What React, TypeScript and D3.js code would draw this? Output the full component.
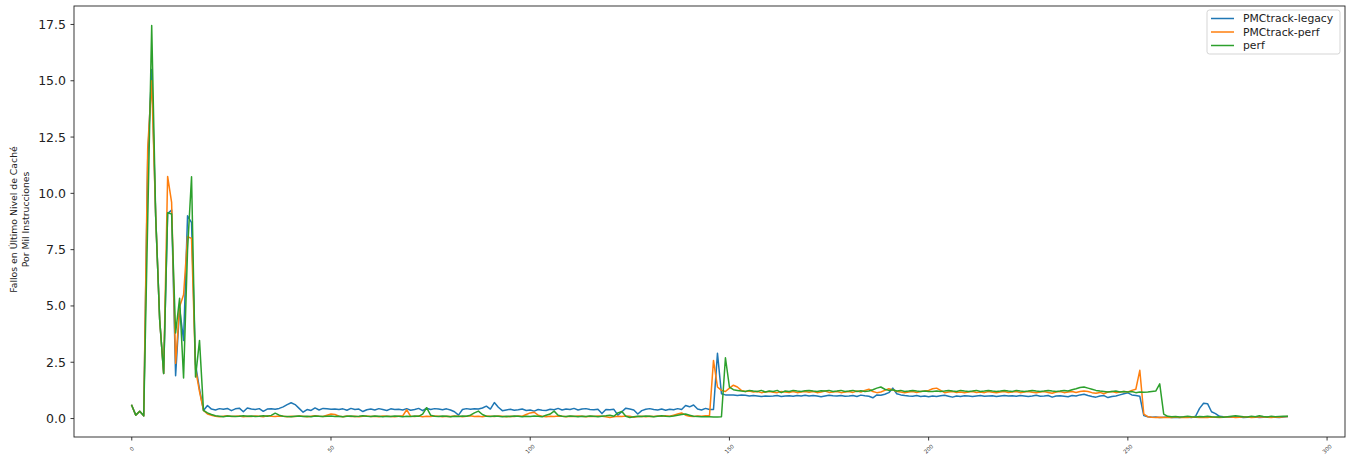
import React from "react";
import * as d3 from "d3";

// Misses in the last-level cache per thousand instructions, one sample per step
const legacy: number[] = [
  0.58, 0.15, 0.32, 0.12, 11.5, 15.5, 9.0, 4.4, 2.0, 9.1,
  9.26, 1.9, 4.9, 3.47, 9.0, 8.7, 2.4, 1.3, 0.36, 0.58,
  0.42, 0.38, 0.44, 0.41, 0.45, 0.35, 0.43, 0.46, 0.3, 0.47,
  0.42, 0.4, 0.44, 0.32, 0.42, 0.43, 0.41, 0.45, 0.52, 0.62,
  0.7, 0.62, 0.45, 0.28, 0.4, 0.36, 0.47, 0.38, 0.45, 0.43,
  0.41, 0.42, 0.4, 0.43, 0.37, 0.45, 0.4, 0.42, 0.31, 0.39,
  0.42, 0.38, 0.44, 0.4, 0.36, 0.43, 0.4, 0.41, 0.38, 0.44,
  0.37, 0.4, 0.45, 0.35, 0.46, 0.4, 0.44, 0.42, 0.39, 0.43,
  0.38, 0.3, 0.15, 0.4, 0.44, 0.41, 0.43, 0.42, 0.47, 0.55,
  0.42, 0.71, 0.5, 0.35, 0.38, 0.41, 0.37, 0.39, 0.42, 0.36,
  0.38, 0.33, 0.4, 0.37, 0.36, 0.41, 0.39, 0.45, 0.38, 0.42,
  0.4, 0.45, 0.38, 0.42, 0.44, 0.4, 0.39, 0.41, 0.22, 0.4,
  0.39, 0.41, 0.15, 0.3, 0.46, 0.42, 0.38, 0.2, 0.35, 0.41,
  0.44, 0.4, 0.38, 0.42, 0.37, 0.41, 0.39, 0.44, 0.4, 0.58,
  0.52, 0.6, 0.42, 0.38, 0.45, 0.4, 0.4, 2.9, 1.1, 1.05,
  1.05, 1.05, 1.02, 1.04, 1.03, 1.0, 1.02, 1.0, 0.98, 1.0,
  0.99, 1.0, 1.02, 0.98, 1.0, 1.01, 0.99, 1.02, 1.0, 1.03,
  1.0, 1.02, 1.0, 0.97, 1.0, 1.03, 1.01, 1.0, 1.02, 0.99,
  1.0, 1.02, 0.98, 1.04, 1.01, 0.99, 0.92, 1.05, 1.03, 1.08,
  1.15, 1.35, 1.1, 1.05, 1.02, 1.0, 0.99, 1.02, 0.98, 1.0,
  0.97, 1.0, 0.98, 1.01, 1.03, 0.99, 0.95, 1.0, 0.98, 1.01,
  1.0, 0.98, 1.0, 1.02, 0.99, 1.0, 1.01, 0.98, 1.0, 1.02,
  1.0, 1.01, 0.99, 1.02, 1.0, 0.98, 1.0, 1.03, 0.99, 1.0,
  1.02, 0.95, 1.0, 1.01, 0.99, 0.97, 1.02, 1.0, 1.05, 1.08,
  1.02, 0.98, 0.95, 1.0, 1.02, 0.93, 0.98, 1.0, 1.05, 1.1,
  1.14, 1.05, 1.02, 0.99, 0.13, 0.08, 0.06, 0.07, 0.05, 0.06,
  0.07, 0.05, 0.06, 0.05, 0.07, 0.06, 0.05, 0.1, 0.45, 0.68,
  0.66, 0.3, 0.22, 0.1, 0.08, 0.07, 0.06, 0.08, 0.07, 0.05,
  0.06, 0.08, 0.07, 0.05, 0.06, 0.08, 0.07, 0.06, 0.05, 0.07,
  0.09,
];

const pmcPerf: number[] = [
  0.58, 0.15, 0.32, 0.12, 12.0, 15.0, 9.0, 4.4, 2.0, 10.75,
  9.6, 2.45, 4.96, 5.5, 8.07, 8.0, 2.2, 1.2, 0.36, 0.2,
  0.15, 0.1, 0.08, 0.1, 0.12, 0.09, 0.1, 0.11, 0.08, 0.1,
  0.09, 0.11, 0.1, 0.08, 0.12, 0.1, 0.09, 0.11, 0.1, 0.08,
  0.1, 0.09, 0.11, 0.1, 0.08, 0.1, 0.12, 0.1, 0.09, 0.15,
  0.2, 0.18, 0.1, 0.08, 0.11, 0.09, 0.1, 0.08, 0.1, 0.11,
  0.09, 0.1, 0.08, 0.11, 0.1, 0.09, 0.08, 0.1, 0.12, 0.39,
  0.1, 0.09, 0.11, 0.08, 0.1, 0.09, 0.11, 0.1, 0.08, 0.1,
  0.09, 0.11, 0.1, 0.08, 0.1, 0.12, 0.09, 0.1, 0.08, 0.11,
  0.1, 0.09, 0.11, 0.1, 0.08, 0.1, 0.09, 0.11, 0.1, 0.18,
  0.25, 0.28, 0.15, 0.1, 0.08, 0.1, 0.09, 0.11, 0.1, 0.08,
  0.1, 0.09, 0.11, 0.1, 0.08, 0.1, 0.09, 0.11, 0.1, 0.08,
  0.05, 0.08, 0.1, 0.09, 0.11, 0.1, 0.06, 0.09, 0.1, 0.08,
  0.1, 0.09, 0.11, 0.1, 0.12, 0.1, 0.15, 0.2, 0.25, 0.15,
  0.1, 0.09, 0.11, 0.1, 0.12, 0.13, 2.58, 1.4, 1.25, 1.2,
  1.35, 1.48, 1.4, 1.25, 1.2, 1.22, 1.18, 1.2, 1.15, 1.18,
  1.2, 1.17, 1.15, 1.2, 1.18, 1.16, 1.2, 1.15, 1.18, 1.2,
  1.17, 1.2, 1.15, 1.18, 1.22, 1.16, 1.18, 1.2, 1.15, 1.18,
  1.2, 1.16, 1.22, 1.18, 1.25, 1.3, 1.2, 1.15, 1.18, 1.25,
  1.32, 1.28, 1.2, 1.18, 1.15, 1.18, 1.2, 1.16, 1.2, 1.22,
  1.25, 1.32, 1.35, 1.25, 1.15, 1.18, 1.2, 1.16, 1.18, 1.15,
  1.18, 1.2, 1.16, 1.18, 1.15, 1.2, 1.17, 1.15, 1.18, 1.2,
  1.16, 1.18, 1.2, 1.15, 1.18, 1.2, 1.17, 1.15, 1.18, 1.2,
  1.16, 1.12, 1.18, 1.2, 1.15, 1.18, 1.2, 1.16, 1.2, 1.22,
  1.2, 1.15, 1.12, 1.16, 1.1, 1.18, 1.2, 1.15, 1.18, 1.2,
  1.18, 1.25, 1.3, 2.14, 0.2, 0.08, 0.06, 0.05, 0.06, 0.05,
  0.06, 0.05, 0.07, 0.05, 0.06, 0.05, 0.07, 0.06, 0.05, 0.06,
  0.05, 0.07, 0.06, 0.05, 0.06, 0.08, 0.07, 0.05, 0.06, 0.08,
  0.07, 0.05, 0.06, 0.08, 0.07, 0.06, 0.05, 0.07, 0.06, 0.08,
  0.09,
];

const perf: number[] = [
  0.58, 0.15, 0.32, 0.12, 8.8, 17.45, 9.0, 4.4, 2.0, 9.14,
  9.08, 3.8, 5.34, 1.8, 7.5, 10.74, 1.84, 3.47, 0.36, 0.25,
  0.18, 0.12, 0.1, 0.08, 0.11, 0.1, 0.09, 0.1, 0.12, 0.1,
  0.11, 0.09, 0.1, 0.12, 0.1, 0.14, 0.24, 0.15, 0.1, 0.09,
  0.08, 0.1, 0.11, 0.09, 0.1, 0.08, 0.11, 0.1, 0.09, 0.1,
  0.11, 0.09, 0.1, 0.08, 0.1, 0.11, 0.09, 0.1, 0.12, 0.1,
  0.09, 0.11, 0.1, 0.08, 0.1, 0.09, 0.11, 0.1, 0.08, 0.1,
  0.09, 0.11, 0.1, 0.2, 0.48, 0.15, 0.1, 0.09, 0.11, 0.1,
  0.08, 0.1, 0.09, 0.11, 0.1, 0.15, 0.25, 0.33, 0.18, 0.1,
  0.09, 0.11, 0.1, 0.08, 0.1, 0.09, 0.11, 0.1, 0.08, 0.1,
  0.09, 0.11, 0.1, 0.08, 0.15, 0.2, 0.33, 0.15, 0.1, 0.09,
  0.11, 0.1, 0.08, 0.1, 0.09, 0.11, 0.1, 0.08, 0.1, 0.12,
  0.15, 0.1, 0.25, 0.31, 0.1, 0.05, 0.08, 0.1, 0.09, 0.11,
  0.1, 0.08, 0.1, 0.12, 0.1, 0.09, 0.11, 0.15, 0.18, 0.2,
  0.15, 0.1, 0.09, 0.08, 0.08, 0.08, 0.07, 0.07, 0.08, 2.7,
  1.4, 1.28, 1.25, 1.22, 1.2, 1.25, 1.22, 1.2, 1.25, 1.18,
  1.22, 1.2, 1.25, 1.15, 1.22, 1.2, 1.25, 1.22, 1.2, 1.23,
  1.25, 1.22, 1.2, 1.23, 1.22, 1.25, 1.2, 1.22, 1.25, 1.2,
  1.22, 1.25, 1.2, 1.23, 1.2, 1.22, 1.28, 1.35, 1.4, 1.3,
  1.25, 1.28, 1.22, 1.25, 1.2, 1.22, 1.25, 1.22, 1.2, 1.22,
  1.2, 1.2, 1.22, 1.2, 1.22, 1.25, 1.22, 1.2, 1.25, 1.22,
  1.2, 1.22, 1.25, 1.2, 1.22, 1.25, 1.22, 1.2, 1.22, 1.25,
  1.22, 1.2, 1.25, 1.22, 1.2, 1.22, 1.25, 1.22, 1.2, 1.22,
  1.25, 1.22, 1.2, 1.22, 1.25, 1.22, 1.28, 1.32, 1.38, 1.4,
  1.35, 1.3, 1.25, 1.22, 1.2, 1.18, 1.2, 1.22, 1.18, 1.2,
  1.18, 1.2, 1.15, 1.18, 1.17, 1.18, 1.2, 1.22, 1.54, 0.2,
  0.1, 0.08, 0.09, 0.07, 0.08, 0.1, 0.08, 0.07, 0.09, 0.08,
  0.1, 0.08, 0.07, 0.08, 0.06, 0.08, 0.1, 0.12, 0.1, 0.08,
  0.07, 0.1, 0.08, 0.12, 0.09, 0.07, 0.1, 0.08, 0.09, 0.1,
  0.1,
];

const seriesNames = ["PMCtrack-legacy", "PMCtrack-perf", "perf"];
const seriesColors = ["#1f77b4", "#ff7f0e", "#2ca02c"];
const xTickValues = [0, 50, 100, 150, 200, 250, 300];
const yTickValues = [0, 2.5, 5, 7.5, 10, 12.5, 15, 17.5];
const yLabelLines = ["Fallos en Último Nivel de Caché", "Por Mil Instrucciones"];

const W = 1352;
const H = 457;
const plot = { left: 74, right: 1345, top: 6, bottom: 437 };
const FONT = "'DejaVu Sans', sans-serif";

export default function App() {
  const all = [legacy, pmcPerf, perf];
  const n = legacy.length;
  const xPad = (n - 1) * 0.05;
  const x = d3.scaleLinear().domain([-xPad, n - 1 + xPad]).range([plot.left, plot.right]);
  const yMin = d3.min(all.flat()) as number;
  const yMax = d3.max(all.flat()) as number;
  const yPad = (yMax - yMin) * 0.05;
  const y = d3.scaleLinear().domain([yMin - yPad, yMax + yPad]).range([plot.bottom, plot.top]);

  const line = d3
    .line<number>()
    .x((_, i) => x(i))
    .y((d) => y(d));

  const yMid = (plot.top + plot.bottom) / 2 - 2;
  const legendX = 1207;
  const legendY = 10;

  return (
    <svg
      width={W}
      height={H}
      style={{ position: "absolute", left: 0, top: 0, background: "#fff" }}
      fontFamily={FONT}
    >
      <rect x={0} y={0} width={W} height={H} fill="#fff" />

      {/* series lines */}
      <g clipPath="url(#plotClip)">
        {all.map((s, k) => (
          <path
            key={seriesNames[k]}
            d={line(s) || ""}
            fill="none"
            stroke={seriesColors[k]}
            strokeWidth={1.5}
            strokeLinejoin="round"
            strokeLinecap="square"
          />
        ))}
      </g>
      <defs>
        <clipPath id="plotClip">
          <rect x={plot.left} y={plot.top} width={plot.right - plot.left} height={plot.bottom - plot.top} />
        </clipPath>
      </defs>

      {/* frame */}
      <rect
        x={plot.left}
        y={plot.top}
        width={plot.right - plot.left}
        height={plot.bottom - plot.top}
        fill="none"
        stroke="#222"
        strokeWidth={0.9}
      />

      {/* y axis */}
      {yTickValues.map((v) => (
        <g key={v} transform={`translate(0,${y(v)})`}>
          <line x1={plot.left - 3.5} x2={plot.left} stroke="#222" strokeWidth={0.9} />
          <text x={plot.left - 8} dy="0.36em" textAnchor="end" fontSize={12.5} fill="#222">
            {v.toFixed(1)}
          </text>
        </g>
      ))}

      {/* x axis */}
      {xTickValues.map((v) => (
        <g key={v} transform={`translate(${x(v)},0)`}>
          <line y1={plot.bottom} y2={plot.bottom + 3.5} stroke="#222" strokeWidth={0.9} />
          <text
            transform={`translate(0,${plot.bottom + 12}) rotate(-45)`}
            textAnchor="middle"
            dy="0.35em"
            fontSize={5.5}
            fill="#333"
          >
            {v}
          </text>
        </g>
      ))}

      {/* y axis title */}
      <text transform={`translate(17,${yMid}) rotate(-90)`} textAnchor="middle" fontSize={9.3} fill="#222">
        <tspan x={0} dy={0}>{yLabelLines[0]}</tspan>
        <tspan x={0} dy={11.5}>{yLabelLines[1]}</tspan>
      </text>

      {/* legend */}
      <rect
        x={legendX}
        y={legendY}
        width={133}
        height={44}
        rx={2.5}
        fill="#fff"
        fillOpacity={0.8}
        stroke="#d0d0d0"
        strokeWidth={0.9}
      />
      {seriesNames.map((name, k) => {
        const ly = legendY + 8.5 + k * 13.5;
        return (
          <g key={name}>
            <line x1={legendX + 4} x2={legendX + 27} y1={ly} y2={ly} stroke={seriesColors[k]} strokeWidth={1.5} />
            <text x={legendX + 36} y={ly} dy="0.36em" fontSize={10.8} fill="#222">
              {name}
            </text>
          </g>
        );
      })}
    </svg>
  );
}
